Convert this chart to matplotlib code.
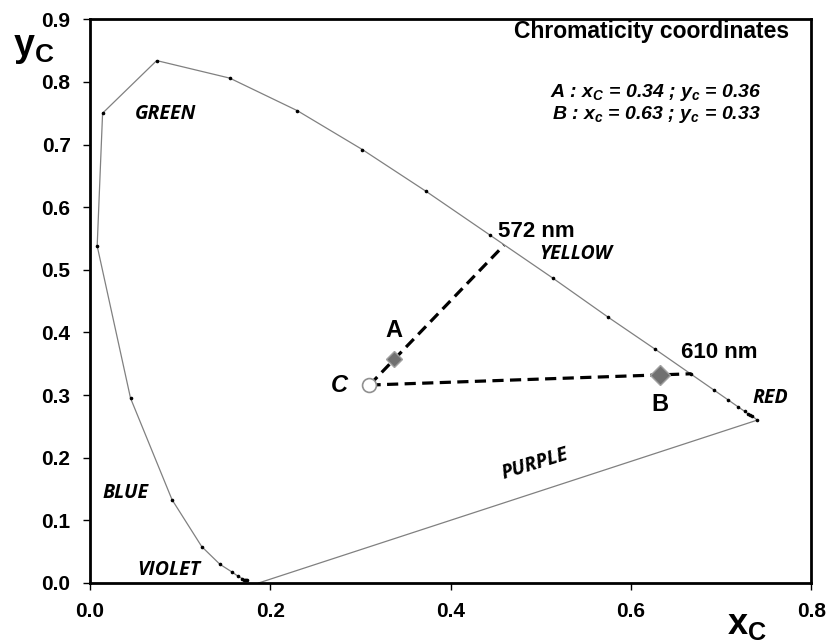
import numpy as np
import matplotlib
matplotlib.use("Agg")
from matplotlib import pyplot as plt

plt.rcParams['mathtext.fontset'] = 'custom'
plt.rcParams['mathtext.rm'] = 'Liberation Sans:bold'
plt.rcParams['mathtext.it'] = 'Liberation Sans:bold:italic'
plt.rcParams['mathtext.bf'] = 'Liberation Sans:bold'

# spectral locus (380 -> 700 nm)
locus_x = [0.174, 0.173, 0.172, 0.171, 0.169, 0.164, 0.157, 0.144, 0.124, 0.091,
           0.045, 0.008, 0.014, 0.074, 0.155, 0.230, 0.302, 0.373, 0.444, 0.513,
           0.575, 0.627, 0.666, 0.692, 0.708, 0.719, 0.726, 0.730, 0.732, 0.734, 0.740]
locus_y = [0.005, 0.005, 0.005, 0.005, 0.007, 0.011, 0.018, 0.030, 0.058, 0.133,
           0.295, 0.538, 0.750, 0.834, 0.806, 0.754, 0.692, 0.625, 0.555, 0.487,
           0.424, 0.373, 0.334, 0.308, 0.292, 0.281, 0.274, 0.270, 0.268, 0.267, 0.260]
# purple line
purple_x = [0.187, 0.740]
purple_y = [0.0, 0.260]

pt_C = (0.310, 0.316)
pt_A = (0.337, 0.357)
pt_B = (0.632, 0.332)
pt_572 = (0.459, 0.539)
pt_610 = (0.667, 0.334)

regiones = ["GREEN", "YELLOW", "RED", "BLUE", "VIOLET", "PURPLE"]
reg_x = [0.050, 0.498, 0.735, 0.014, 0.052, 0.494]
reg_y = [0.748, 0.525, 0.295, 0.144, 0.021, 0.190]
reg_rot = [0, 0, 0, 0, 0, 17]
reg_ha = ['left', 'left', 'left', 'left', 'left', 'center']

fig = plt.figure(figsize=(8.33, 6.41), dpi=100)
ax = fig.add_axes([0.108, 0.0905, 0.866, 0.8795])

ax.plot(locus_x, locus_y, color='#808080', lw=0.9, zorder=2)
ax.plot(locus_x, locus_y, 'o', color='black', ms=1.6, zorder=3)
ax.plot(purple_x, purple_y, color='#808080', lw=0.9, zorder=2)

# lineas discontinuas desde C
ax.plot([pt_C[0], pt_572[0]], [pt_C[1], pt_572[1]], '--', color='black', lw=2.3, dashes=(3.5, 2), zorder=4)
ax.plot([pt_C[0], pt_610[0]], [pt_C[1], pt_610[1]], '--', color='black', lw=2.3, dashes=(3.5, 2), zorder=4)

ax.plot(pt_C[0], pt_C[1], 'o', ms=10, mfc='white', mec='#909090', mew=1.2, zorder=5)
ax.plot(pt_A[0], pt_A[1], 'D', ms=8, mfc='#707070', mec='#a0a0a0', mew=1, zorder=5)
ax.plot(pt_B[0], pt_B[1], 'D', ms=10, mfc='#707070', mec='#a0a0a0', mew=1, zorder=5)

ax.text(pt_A[0], pt_A[1] + 0.028, "A", fontsize=17, fontweight='bold', ha='center', va='bottom', family='Liberation Sans')
ax.text(pt_B[0], pt_B[1] - 0.028, "B", fontsize=17, fontweight='bold', ha='center', va='top', family='Liberation Sans')
ax.text(pt_C[0] - 0.033, pt_C[1], "C", fontsize=17, fontweight='bold', fontstyle='italic', ha='center', va='center', family='Liberation Sans')
ax.text(0.453, 0.561, "572 nm", fontsize=16, fontweight='bold', ha='left', va='center', family='Liberation Sans')
ax.text(0.655, 0.368, "610 nm", fontsize=16, fontweight='bold', ha='left', va='center', family='Liberation Sans')

for nombre, xr, yr, rot, ha in zip(regiones, reg_x, reg_y, reg_rot, reg_ha):
    ax.text(xr, yr, nombre, fontsize=14, fontweight='bold', fontstyle='italic',
            ha=ha, va='center', rotation=rot, family='Open Sans')

ax.text(0.623, 0.881, "Chromaticity coordinates", fontsize=16.5, fontweight='bold',
        ha='center', va='center', family='Liberation Sans')
ax.text(0.628, 0.783, r"$A$ : $x_C$ = 0.34 ; $y_c$ = 0.36", fontsize=14, fontweight='bold',
        fontstyle='italic', ha='center', va='center', family='Liberation Sans')
ax.text(0.628, 0.748, r"$B$ : $x_c$ = 0.63 ; $y_c$ = 0.33", fontsize=14, fontweight='bold',
        fontstyle='italic', ha='center', va='center', family='Liberation Sans')

ax.set_xlim(0, 0.8)
ax.set_ylim(0, 0.9)
ax.set_xticks([0.0, 0.2, 0.4, 0.6, 0.8])
ax.set_yticks(np.arange(0, 0.91, 0.1))
ax.xaxis.set_major_formatter(plt.FormatStrFormatter('%.1f'))
ax.yaxis.set_major_formatter(plt.FormatStrFormatter('%.1f'))
for lab in ax.get_xticklabels() + ax.get_yticklabels():
    lab.set_fontweight('bold')
    lab.set_fontsize(15)
    lab.set_family('Liberation Sans')
ax.tick_params(direction='out', length=5, width=1, pad=9)
for s in ax.spines.values():
    s.set_linewidth(2)

fig.text(0.040, 0.925, r"$\mathrm{y_C}$", fontsize=27, ha='center', va='center')
fig.text(0.897, 0.025, r"$\mathrm{x_C}$", fontsize=26, ha='center', va='center')

fig.savefig("out.png", dpi=100)
